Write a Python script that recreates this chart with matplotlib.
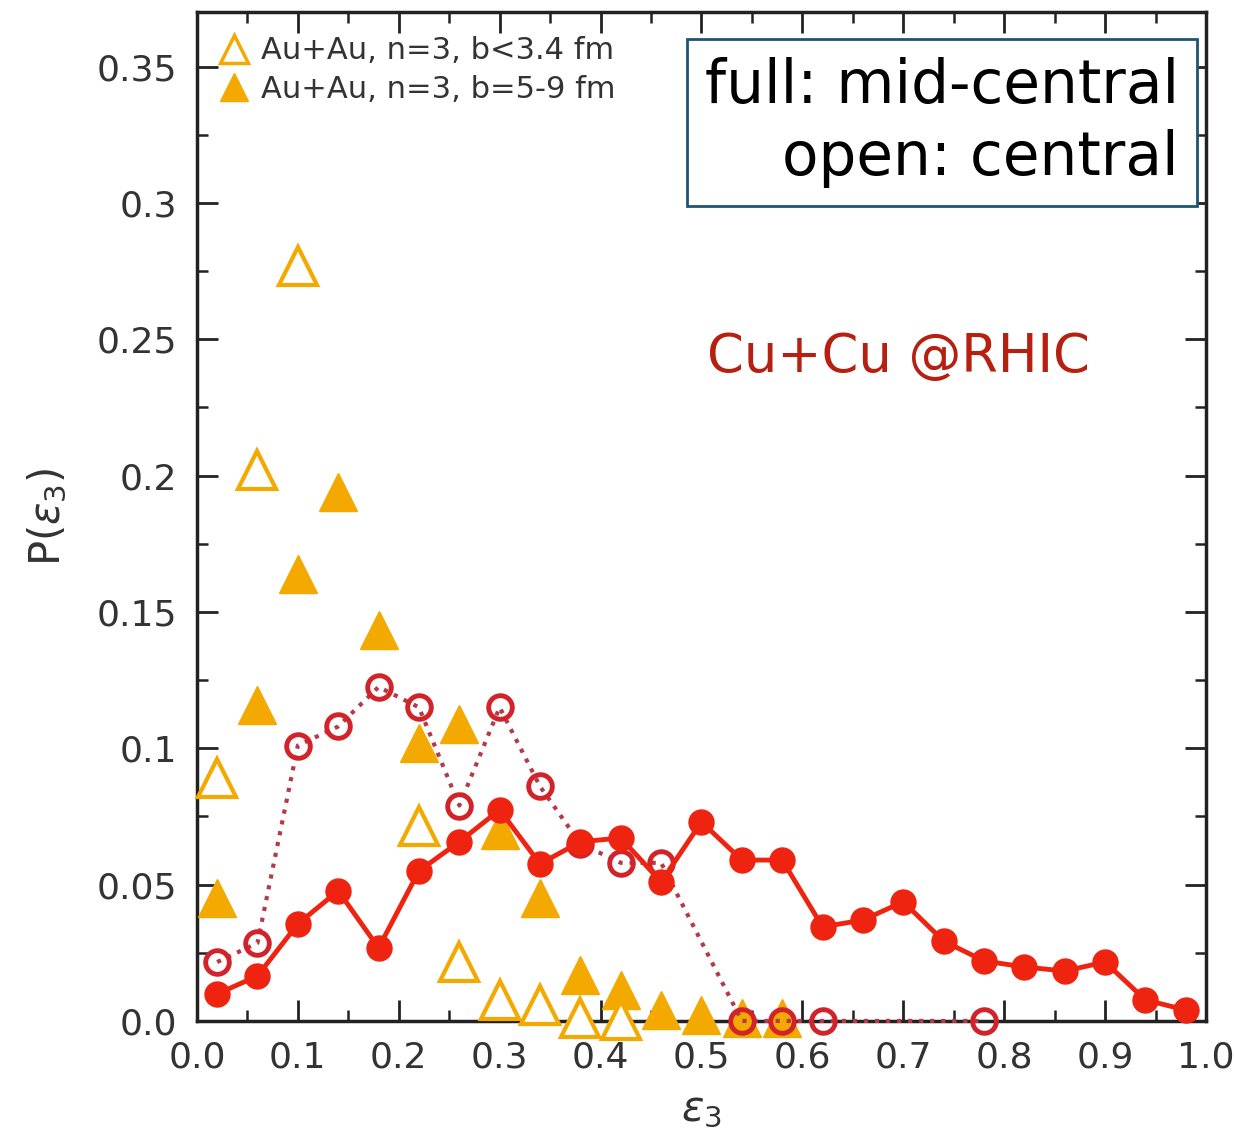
import matplotlib.pyplot as plt
from matplotlib.lines import Line2D
from matplotlib.ticker import MultipleLocator

# Au+Au, n=3 (triangles)
eps_au_central = [0.02, 0.06, 0.10, 0.22, 0.26, 0.30, 0.34, 0.38, 0.42]
p_au_central = [0.089, 0.202, 0.277, 0.0715, 0.0216, 0.0077, 0.006, 0.001, 0.0005]

eps_au_mid = [0.02, 0.06, 0.10, 0.14, 0.18, 0.22, 0.26, 0.30, 0.34, 0.38, 0.42, 0.46, 0.50, 0.54, 0.58]
p_au_mid = [0.045, 0.116, 0.164, 0.194, 0.1435, 0.102, 0.109, 0.070, 0.045, 0.0169, 0.0114,
            0.004, 0.002, 0.001, 0.001]

# Cu+Cu (circles)
eps_cu_mid = [0.02, 0.06, 0.10, 0.14, 0.18, 0.22, 0.26, 0.30, 0.34, 0.38, 0.42, 0.46, 0.50,
              0.54, 0.58, 0.62, 0.66, 0.70, 0.74, 0.78, 0.82, 0.86, 0.90, 0.94, 0.98]
p_cu_mid = [0.0099, 0.0165, 0.0356, 0.0477, 0.0268, 0.055, 0.0657, 0.0774, 0.0576, 0.0657,
            0.0671, 0.051, 0.073, 0.059, 0.059, 0.0345, 0.037, 0.0437, 0.0293, 0.022,
            0.0198, 0.0183, 0.0216, 0.0077, 0.004]

eps_cu_central = [0.02, 0.06, 0.10, 0.14, 0.18, 0.22, 0.26, 0.30, 0.34, 0.38, 0.42, 0.46,
                  0.54, 0.58, 0.62, 0.78]
p_cu_central = [0.0216, 0.0286, 0.101, 0.108, 0.1225, 0.115, 0.079, 0.115, 0.086, 0.065,
                0.058, 0.058, 0.0, 0.0, 0.0, 0.0]

orange = '#F4A900'
red = '#EE2410'
dark_red = '#D2232A'
txt = '#333333'

plt.rcParams['font.family'] = 'DejaVu Sans'
plt.rcParams['mathtext.fontset'] = 'dejavusans'

fig = plt.figure(figsize=(12.34, 11.33), dpi=100)
ax = fig.add_axes([0.1596, 0.0989, 0.8177, 0.8905])

ax.plot(eps_au_mid, p_au_mid, linestyle='none', marker='^', markersize=27,
        color=orange, clip_on=False, zorder=3)
ax.plot(eps_au_central, p_au_central, linestyle='none', marker='^', markersize=27,
        markerfacecolor='white', markeredgecolor=orange, markeredgewidth=3,
        clip_on=False, zorder=3)

ax.plot(eps_cu_central, p_cu_central, linestyle=':', linewidth=3, color='#B53A48',
        marker='o', markersize=17, markerfacecolor='none', markeredgecolor=dark_red,
        markeredgewidth=3.5, clip_on=False, zorder=4)
ax.plot(eps_cu_mid, p_cu_mid, linestyle='-', linewidth=3.5, color=red,
        marker='o', markersize=18, clip_on=False, zorder=5)

ax.set_xlim(0, 1.0)
ax.set_ylim(0, 0.37)
ax.xaxis.set_minor_locator(MultipleLocator(0.05))
ax.yaxis.set_minor_locator(MultipleLocator(0.025))
ax.set_xticks([0.0, 0.1, 0.2, 0.3, 0.4, 0.5, 0.6, 0.7, 0.8, 0.9, 1.0])
ax.set_xticklabels(['0.0', '0.1', '0.2', '0.3', '0.4', '0.5', '0.6', '0.7', '0.8', '0.9', '1.0'])
ax.set_yticks([0.0, 0.05, 0.1, 0.15, 0.2, 0.25, 0.3, 0.35])
ax.set_yticklabels(['0.0', '0.05', '0.1', '0.15', '0.2', '0.25', '0.3', '0.35'])

ax.tick_params(which='both', direction='in', top=True, right=True, colors='#222222',
               labelcolor=txt, labelsize=26)
ax.tick_params(which='major', length=15, width=2, pad=14)
ax.tick_params(which='minor', length=8, width=1.8)
for s in ax.spines.values():
    s.set_linewidth(2.5)
    s.set_color('#222222')

ax.set_xlabel(r'$\epsilon_3$', fontsize=30, color=txt, labelpad=10)
ax.set_ylabel(r'P($\epsilon_3$)', fontsize=30, color=txt, labelpad=20)

handles = [
    Line2D([], [], linestyle='none', marker='^', markersize=20, markerfacecolor='white',
           markeredgecolor=orange, markeredgewidth=2.5),
    Line2D([], [], linestyle='none', marker='^', markersize=20, color=orange),
]
ax.legend(handles, ['Au+Au, n=3, b<3.4 fm', 'Au+Au, n=3, b=5-9 fm'], loc='upper left',
          frameon=False, fontsize=22, labelcolor=txt, handlelength=0.8, handletextpad=0.5,
          labelspacing=0.3, borderaxespad=0.4, bbox_to_anchor=(0.0, 1.0))

ax.text(0.973, 0.955, 'full: mid-central\nopen: central', transform=ax.transAxes,
        ha='right', va='top', fontsize=43, color='black', linespacing=1.28,
        bbox=dict(boxstyle='square,pad=0.3', facecolor='white', edgecolor='#1F5570',
                  linewidth=2))

ax.text(0.695, 0.658, 'Cu+Cu @RHIC', transform=ax.transAxes, ha='center', va='center',
        fontsize=38, color='#B52010')

fig.savefig('out.png', dpi=100)
